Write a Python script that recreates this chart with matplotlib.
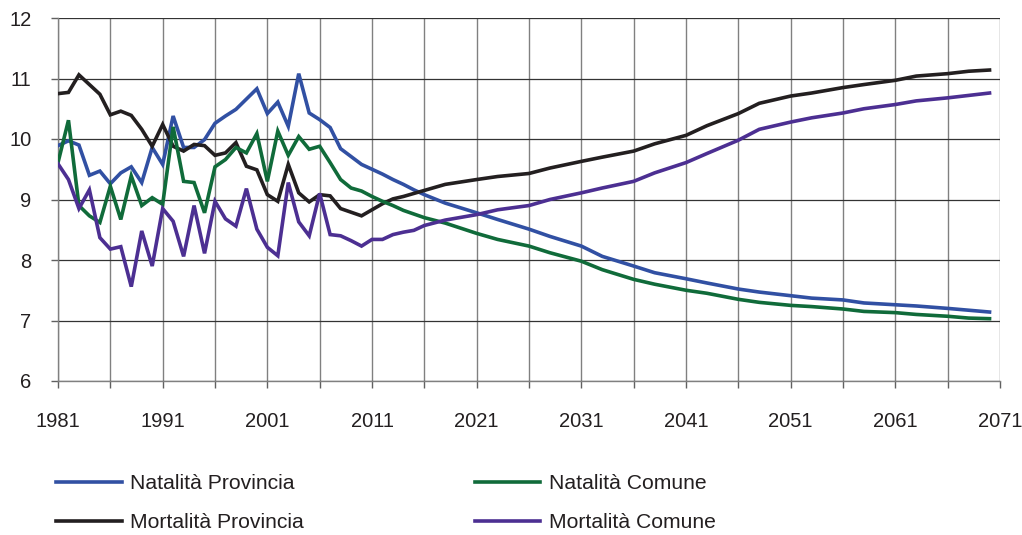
import matplotlib
matplotlib.use("Agg")
import matplotlib.pyplot as plt
from matplotlib.ticker import MultipleLocator

plt.rcParams['font.family'] = ['Liberation Sans', 'DejaVu Sans']

years = list(range(1981, 2017)) + [2018, 2021, 2023, 2026, 2028, 2031, 2033, 2036, 2038,
                                   2041, 2043, 2046, 2048, 2051, 2053, 2056, 2058, 2061,
                                   2063, 2066, 2068, 2070]

natalita_provincia = [
    9.89, 9.97, 9.90, 9.40, 9.47, 9.26, 9.44, 9.54, 9.28, 9.86,
    9.58, 10.38, 9.86, 9.86, 9.99, 10.26, 10.38, 10.49, 10.66, 10.83,
    10.42, 10.61, 10.21, 11.08, 10.43, 10.32, 10.19, 9.84, 9.71, 9.58,
    9.50, 9.42, 9.33, 9.25, 9.16, 9.08,
    8.94, 8.78, 8.67, 8.51, 8.39, 8.23, 8.06, 7.90, 7.79,
    7.69, 7.62, 7.52, 7.47, 7.41, 7.37, 7.34, 7.29, 7.26, 7.24, 7.20, 7.17, 7.14]

natalita_comune = [
    9.61, 10.31, 8.90, 8.73, 8.62, 9.22, 8.67, 9.39, 8.90, 9.03,
    8.92, 10.20, 9.30, 9.28, 8.78, 9.54, 9.66, 9.86, 9.77, 10.09,
    9.30, 10.13, 9.73, 10.04, 9.83, 9.88, 9.61, 9.33, 9.19, 9.14,
    9.05, 8.97, 8.90, 8.82, 8.76, 8.70,
    8.61, 8.44, 8.34, 8.23, 8.12, 7.98, 7.84, 7.68, 7.60,
    7.50, 7.45, 7.35, 7.30, 7.25, 7.23, 7.19, 7.15, 7.13, 7.10, 7.07, 7.04, 7.03]

mortalita_provincia = [
    10.75, 10.77, 11.06, 10.90, 10.74, 10.40, 10.46, 10.39, 10.16, 9.88,
    10.24, 9.88, 9.80, 9.91, 9.89, 9.73, 9.77, 9.94, 9.55, 9.49,
    9.08, 8.97, 9.58, 9.11, 8.96, 9.08, 9.06, 8.85, 8.79, 8.73,
    8.83, 8.93, 9.01, 9.05, 9.10, 9.15,
    9.25, 9.33, 9.38, 9.43, 9.52, 9.63, 9.70, 9.80, 9.92,
    10.06, 10.22, 10.42, 10.59, 10.71, 10.76, 10.85, 10.90, 10.97, 11.04, 11.08, 11.12, 11.14]

mortalita_comune = [
    9.59, 9.33, 8.85, 9.16, 8.37, 8.18, 8.22, 7.56, 8.48, 7.90,
    8.85, 8.64, 8.06, 8.90, 8.11, 8.97, 8.68, 8.56, 9.18, 8.51,
    8.21, 8.07, 9.28, 8.63, 8.40, 9.10, 8.42, 8.40, 8.32, 8.23,
    8.34, 8.34, 8.42, 8.46, 8.49, 8.57,
    8.66, 8.75, 8.83, 8.90, 9.00, 9.11, 9.19, 9.30, 9.44,
    9.61, 9.76, 9.98, 10.16, 10.28, 10.35, 10.43, 10.50, 10.57, 10.63, 10.68, 10.72, 10.76]

series = [
    ("Natalità Provincia", natalita_provincia, "#3150a3"),
    ("Mortalità Provincia", mortalita_provincia, "#231f20"),
    ("Natalità Comune", natalita_comune, "#106b3a"),
    ("Mortalità Comune", mortalita_comune, "#4c2f92"),
]

fig = plt.figure(figsize=(10.22, 5.35), dpi=100)
ax = fig.add_axes([58 / 1022, 1 - 381 / 535, (1000 - 58) / 1022, (381 - 18) / 535])

for label, vals, color in series:
    ax.plot(years, vals, color=color, lw=2.6, label=label, solid_joinstyle='miter', zorder=3)

ax.set_xlim(1981, 2071)
ax.set_ylim(6, 12)
ax.xaxis.set_major_locator(MultipleLocator(10, offset=1))
ax.xaxis.set_minor_locator(MultipleLocator(5, offset=1))
ax.yaxis.set_major_locator(MultipleLocator(1))

ax.grid(True, axis='x', which='both', color='#808080', lw=1.0, zorder=1)
ax.grid(True, axis='y', which='major', color='#333333', lw=0.9, zorder=1)

for s in ['top', 'right']:
    ax.spines[s].set_visible(False)
for s in ['left', 'bottom']:
    ax.spines[s].set_color('#808080')
    ax.spines[s].set_linewidth(1.0)

ax.tick_params(axis='both', which='both', length=5, color='#606060', width=1.0,
               labelsize=14.5, labelcolor='#231f20')
ax.tick_params(axis='x', pad=17)
ax.tick_params(axis='y', pad=14)

handles, labels = ax.get_legend_handles_labels()
fig.legend(handles, labels, ncol=2, loc='upper left', bbox_to_anchor=(52 / 1022, 1 - 470 / 535),
           frameon=False, fontsize=15.2, handlelength=3.1, handletextpad=0.4,
           columnspacing=8.1, labelspacing=0.95, borderaxespad=0, borderpad=0.2,
           labelcolor='#231f20')

fig.savefig("out.png", dpi=100)
